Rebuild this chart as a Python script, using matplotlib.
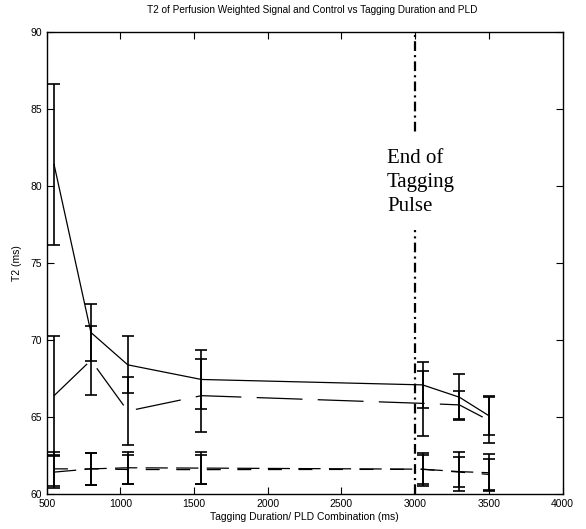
import matplotlib
matplotlib.use("Agg")
import matplotlib.pyplot as plt

plt.rcParams['font.family'] = ['Liberation Sans', 'DejaVu Sans']
plt.rcParams['lines.scale_dashes'] = False

# tagging duration / PLD combinations (ms)
x = [550, 800, 1050, 1550, 3050, 3300, 3500]

# perfusion weighted signal (solid) and its partner (long dash)
t2_a = [81.4, 70.5, 68.4, 67.45, 67.1, 66.3, 65.1]
err_a = [5.2, 1.85, 1.85, 1.9, 1.5, 1.5, 1.25]
t2_b = [66.4, 68.7, 65.4, 66.4, 65.9, 65.8, 64.8]
err_b = [3.85, 2.25, 2.2, 2.35, 2.1, 0.9, 1.5]

# control (two dashed curves near 61.5 ms)
t2_c = [61.44, 61.65, 61.72, 61.7, 61.63, 61.47, 61.4]
err_c = [1.05, 1.05, 1.05, 1.03, 1.08, 1.27, 1.2]
t2_d = [61.65, 61.65, 61.61, 61.6, 61.62, 61.44, 61.29]
err_d = [1.12, 1.05, 0.94, 0.95, 0.93, 0.97, 0.99]

end_of_pulse = 3000

fig = plt.figure(figsize=(5.86, 5.29), dpi=100)
ax = fig.add_axes([0.0797, 0.0656, 0.8803, 0.874])

eb = dict(fmt='none', ecolor='black', elinewidth=1.2, capsize=4, capthick=1.2)
for m, e in [(t2_a, err_a), (t2_b, err_b), (t2_c, err_c), (t2_d, err_d)]:
    ax.errorbar(x, m, yerr=e, **eb)

ax.plot(x, t2_a, color='black', lw=0.9)
ax.plot(x, t2_b, color='black', lw=0.9, dashes=(33, 11))
ax.plot(x, t2_c, color='black', lw=0.9, dashes=(16, 6))
ax.plot(x, t2_d, color='black', lw=0.9, dashes=(10, 12))

ax.axvline(end_of_pulse, color='black', lw=1.6, dashes=(7, 3, 1.5, 3))
ax.text(2809, 82.4, "End of\nTagging\nPulse", family=['Liberation Serif'],
        fontsize=15, va='top', ha='left', linespacing=1.35,
        bbox=dict(boxstyle='square,pad=0.7', fc='white', ec='none'))

ax.set_xlim(500, 4000)
ax.set_ylim(60, 90)
ax.set_xticks(range(500, 4001, 500))
ax.set_yticks(range(60, 91, 5))
ax.tick_params(direction='in', length=5, top=True, right=True, labelsize=7.5, width=0.8)
for s in ax.spines.values():
    s.set_linewidth(1.0)

ax.set_title("T2 of Perfusion Weighted Signal and Control vs Tagging Duration and PLD",
             fontsize=7.2, pad=14, x=0.515)
ax.set_xlabel("Tagging Duration/ PLD Combination (ms)", fontsize=7.5, labelpad=2)
ax.set_ylabel("T2 (ms)", fontsize=7.5, labelpad=6)

fig.savefig("out.png", dpi=100)
